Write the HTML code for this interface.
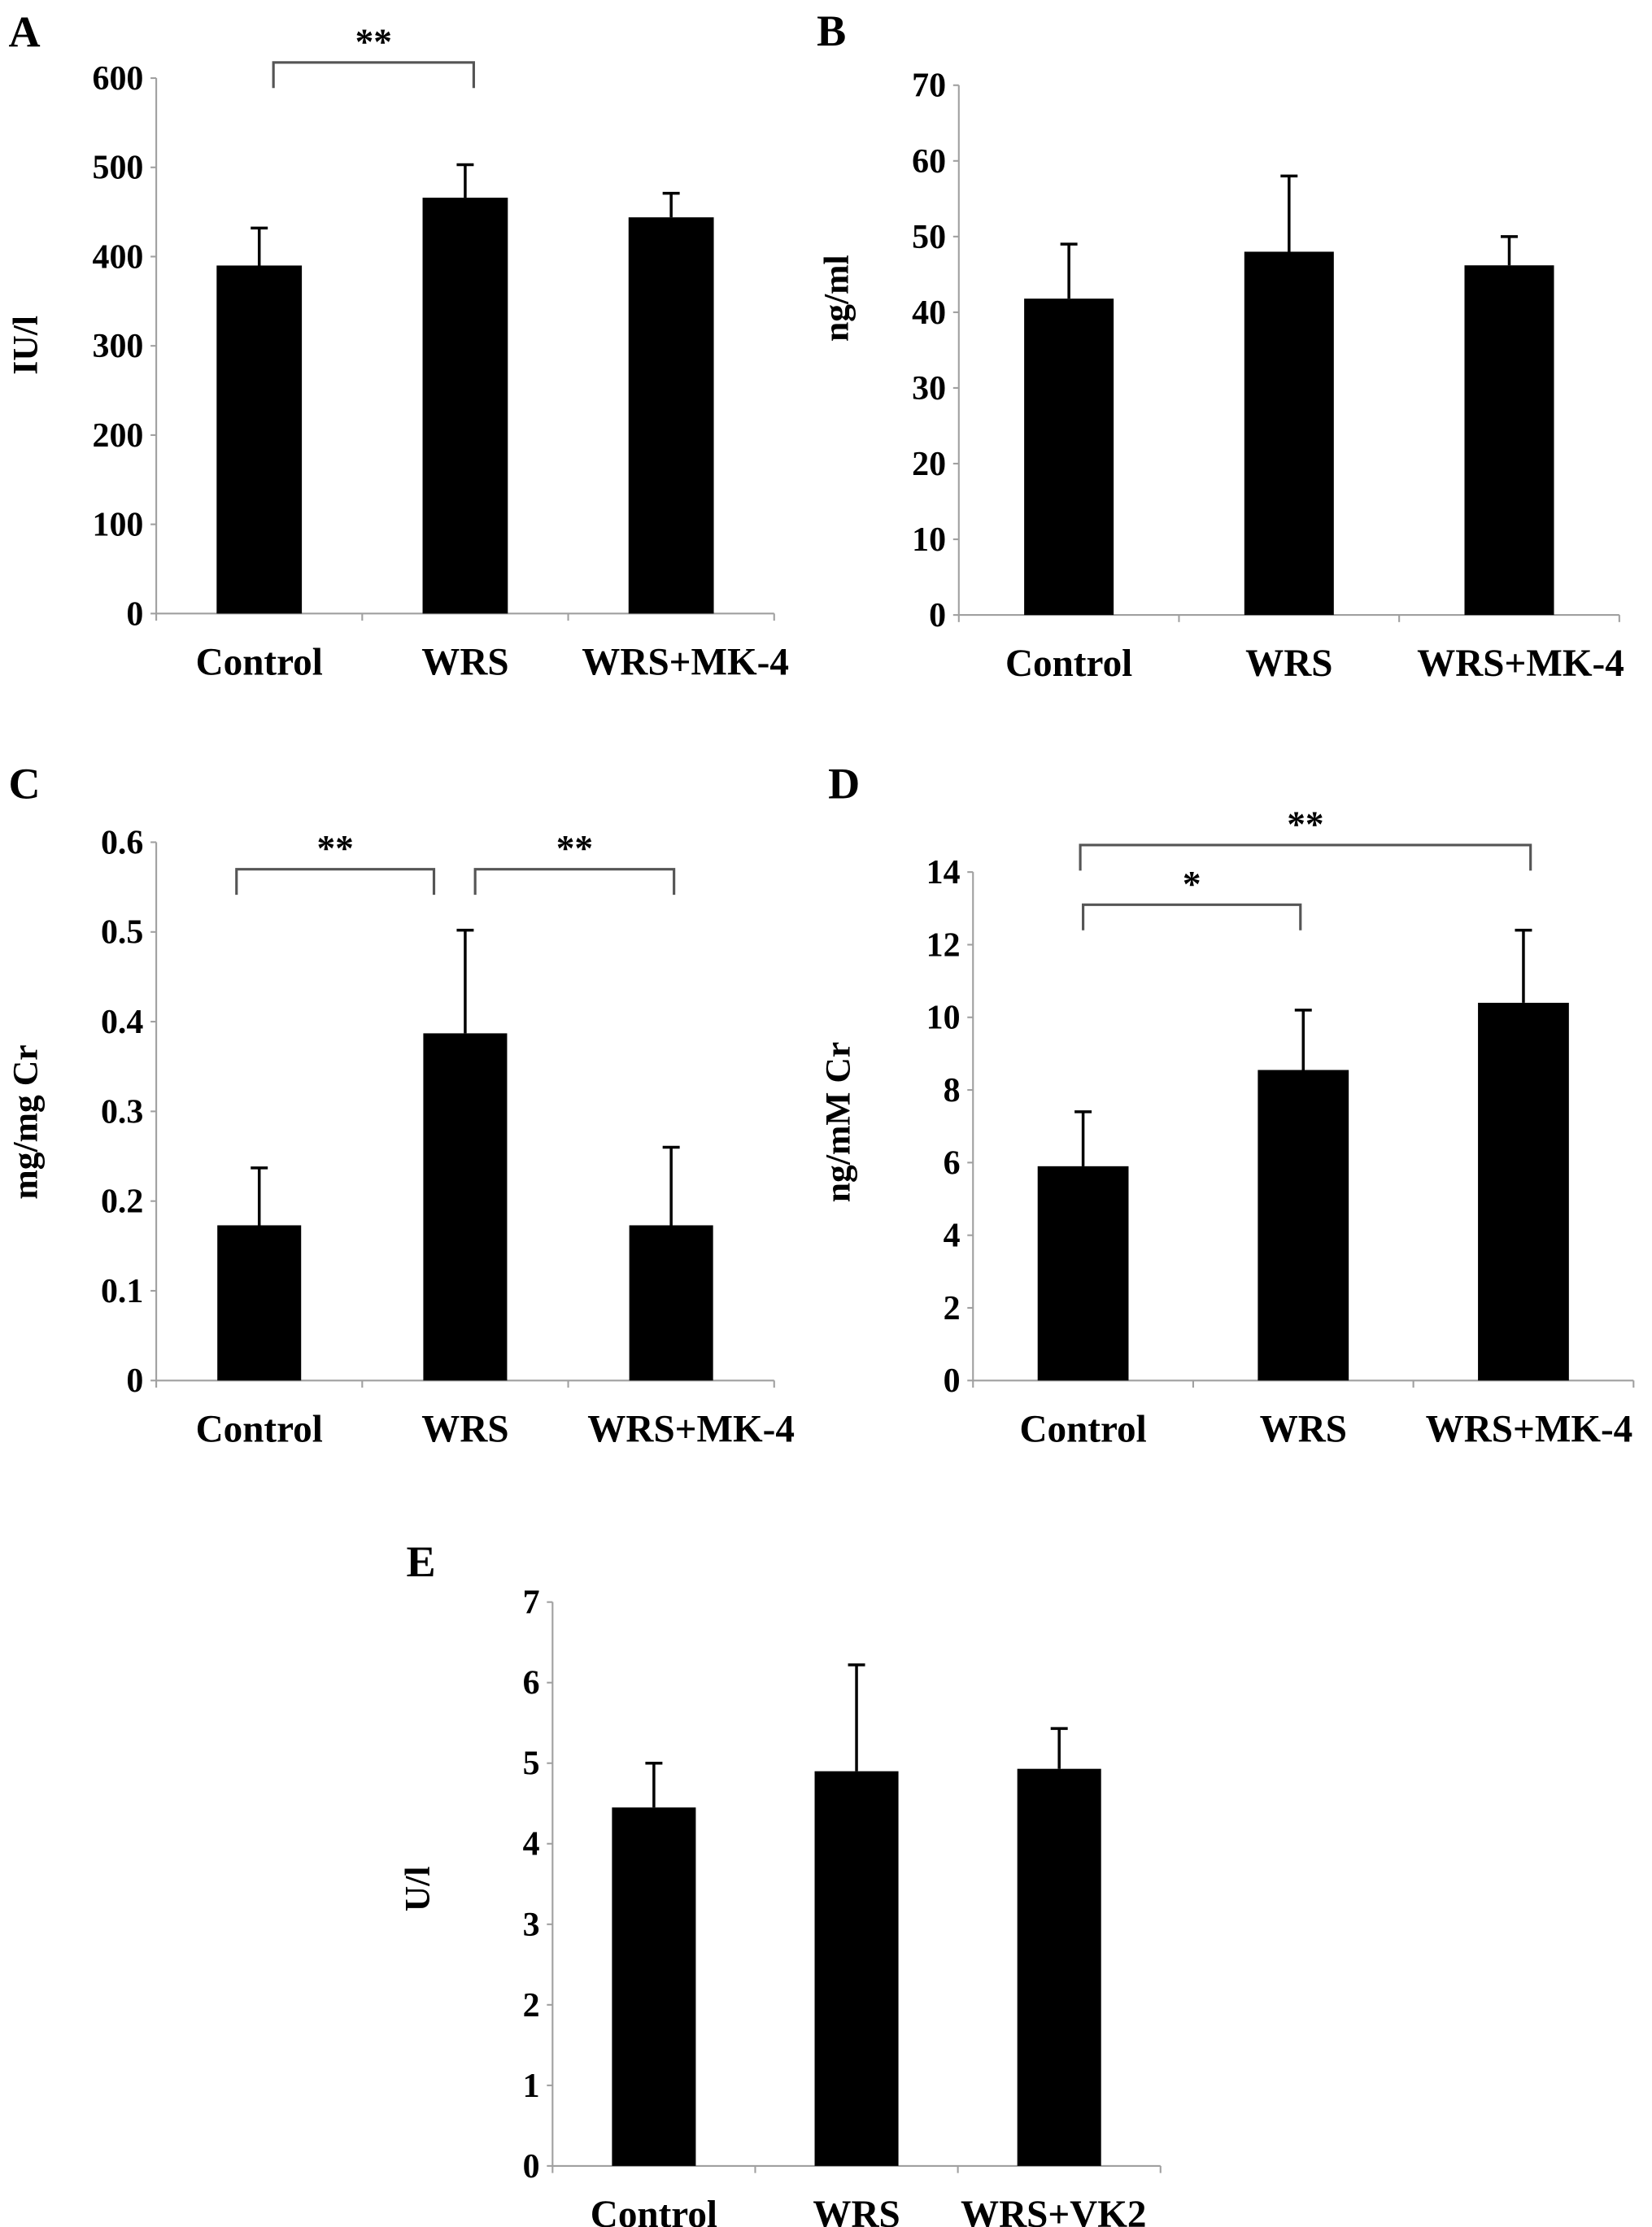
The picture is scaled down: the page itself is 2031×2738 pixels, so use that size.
<!DOCTYPE html>
<html><head><meta charset="utf-8"><style>
html,body{margin:0;padding:0;background:#fff;}
svg{display:block;}
text{font-family:"Liberation Serif",serif;font-weight:bold;fill:#000;}
</style></head><body>
<svg id="fig" width="2031" height="2738" viewBox="0 0 1163 1568" preserveAspectRatio="none" xmlns="http://www.w3.org/2000/svg"></svg>
<script>
const catsMK = ["Control","WRS","WRS+MK-4"];
const catsVK = ["Control","WRS","WRS+VK2"];
const aValues = [390, 466, 444];
const aErrors = [42, 37, 27];
const aTicks = ["0","100","200","300","400","500","600"];
const bValues = [41.8, 48, 46.2];
const bErrors = [7.2, 10, 3.8];
const bTicks = ["0","10","20","30","40","50","60","70"];
const cValues = [0.173, 0.387, 0.173];
const cErrors = [0.064, 0.115, 0.087];
const cTicks = ["0","0.1","0.2","0.3","0.4","0.5","0.6"];
const dValues = [5.9, 8.55, 10.4];
const dErrors = [1.5, 1.65, 2.0];
const dTicks = ["0","2","4","6","8","10","12","14"];
const eValues = [4.45, 4.9, 4.93];
const eErrors = [0.55, 1.32, 0.5];
const eTicks = ["0","1","2","3","4","5","6","7"];

const NS="http://www.w3.org/2000/svg";
const svg=document.getElementById('fig');
function mk(tag,attrs,parent){const e=document.createElementNS(NS,tag);for(const k in attrs)e.setAttribute(k,attrs[k]);(parent||svg).appendChild(e);return e;}

function panel(cfg){
  const g=mk('g',{});
  
  
  const max=parseFloat(cfg.ticks[cfg.ticks.length-1]);
  const y=v=>cfg.y0-(v/max)*(cfg.y0-cfg.yTop);
  const bw=(cfg.xR-cfg.x0)/cfg.cats.length;
  const xc=i=>cfg.x0+bw*(i+0.5);
  const L=mk('text',{x:cfg.lx,y:cfg.ly,'font-size':31},g);L.textContent=cfg.letter;
  
  
  const ax=mk('path',{d:`M${cfg.x0},${cfg.yTop}V${cfg.y0}H${cfg.xR}`,stroke:'#a0a0a0','stroke-width':1.2,fill:'none'},g);
  
  
  cfg.ticks.forEach((t,i)=>{
    const v=parseFloat(t);const yy=y(v);
    mk('line',{x1:cfg.x0-4,x2:cfg.x0,y1:yy,y2:yy,stroke:'#a0a0a0','stroke-width':1.2},g);
    const tx=mk('text',{x:cfg.x0-9,y:yy+8,'font-size':24,'text-anchor':'end'},g);tx.textContent=t;
    
    
  });
  for(let i=0;i<=cfg.cats.length;i++){const xx=cfg.x0+bw*i;mk('line',{x1:xx,x2:xx,y1:cfg.y0,y2:cfg.y0+5,stroke:'#a0a0a0','stroke-width':1.2},g);}
  const yt=mk('text',{x:0,y:0,'font-size':25,'text-anchor':'middle',transform:`translate(${cfg.tx},${cfg.ty}) rotate(-90)`},g);yt.textContent=cfg.title;
  
  
  cfg.values.forEach((v,i)=>{
    const c=xc(i);
    const e=cfg.errors[i];
    const el=mk('path',{d:`M${c},${y(v)}V${y(v+e)}M${c-6},${y(v+e)}H${c+6}`,stroke:'#000','stroke-width':2,fill:'none'},g);
    
    
    const r=mk('rect',{x:c-cfg.barW/2,y:y(v),width:cfg.barW,height:cfg.y0-y(v),fill:'#000'},g);
    
    
    const lb=mk('text',{x:c+(cfg.labelShift?cfg.labelShift[i]:0),y:cfg.y0+43,'font-size':27,'text-anchor':'middle'},g);lb.textContent=cfg.cats[i];
    
    
  });
  (cfg.brackets||[]).forEach(b=>{
    const x1=xc(b[0])+b[4],x2=xc(b[1])+b[5];
    const p=mk('path',{d:`M${x1},${b[2]+18}V${b[2]}H${x2}V${b[2]+18}`,stroke:'#555','stroke-width':1.8,fill:'none'},g);
    
    
    const s=mk('text',{x:(x1+x2)/2,y:b[2]-6,'font-size':26,'text-anchor':'middle',fill:'#444'},g);s.textContent=b[3];
    
    
  });
}
panel({letter:'A',lx:6,ly:33,cats:catsMK,values:aValues,errors:aErrors,ticks:aTicks,title:'IU/l',tx:26,ty:243,
  x0:110,xR:545,yTop:55,y0:432,barW:60,brackets:[[0,1,44,'**',10,6]],labelShift:[0,0,10]});
panel({letter:'B',lx:575,ly:32,cats:catsMK,values:bValues,errors:bErrors,ticks:bTicks,title:'ng/ml',tx:597,ty:210,
  x0:675,xR:1140,yTop:60,y0:433,barW:63,labelShift:[0,0,8]});
panel({letter:'C',lx:6,ly:562,cats:catsMK,values:cValues,errors:cErrors,ticks:cTicks,title:'mg/mg Cr',tx:26,ty:790,
  x0:110,xR:545,yTop:593,y0:972,barW:59,brackets:[[0,1,612,'**',-16,-22],[1,2,612,'**',7,2]],labelShift:[0,0,14]});
panel({letter:'D',lx:583,ly:562,cats:catsMK,values:dValues,errors:dErrors,ticks:dTicks,title:'ng/mM Cr',tx:598,ty:790,
  x0:685,xR:1150,yTop:614,y0:972,barW:64,brackets:[[0,2,595,'**',-2,5],[0,1,637,'*',0,-2]],labelShift:[0,0,4]});
panel({letter:'E',lx:286,ly:1110,cats:catsVK,values:eValues,errors:eErrors,ticks:eTicks,title:'U/l',tx:302,ty:1330,
  x0:389,xR:817,yTop:1128,y0:1525,barW:59,labelShift:[0,0,-4]});
</script>
</body></html>
